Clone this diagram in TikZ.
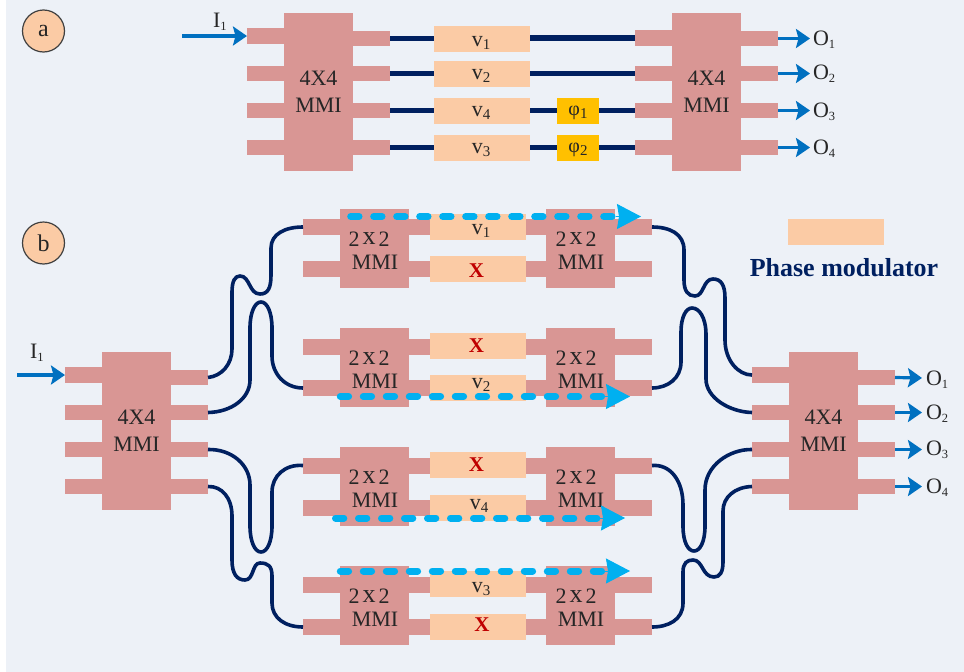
\documentclass[tikz,border=0pt]{standalone}
\usepackage{fontspec}
\setmainfont{Liberation Serif}
\usetikzlibrary{arrows.meta}
\definecolor{bgc}{HTML}{EDF1F7}
\definecolor{mmic}{HTML}{D99694}
\definecolor{boxc}{HTML}{FBCBA5}
\definecolor{navyc}{HTML}{002060}
\definecolor{bluec}{HTML}{0070C0}
\definecolor{cyanc}{HTML}{00B0F0}
\definecolor{goldc}{HTML}{FFC000}
\definecolor{redc}{HTML}{C00000}
\definecolor{txtc}{HTML}{262626}
\tikzset{
  x=1pt,y=-1pt,
  block/.style={inner sep=0pt,outer sep=0pt,draw=none},
  mmi/.style={block,fill=mmic},
  pm/.style={block,fill=boxc},
  phi/.style={block,fill=goldc},
  wg/.style={draw=navyc,line width=3.6pt},
  wgs/.style={draw=navyc,line width=5.5pt},
  io/.style={draw=bluec,line width=3.2pt,-{Stealth[length=14pt,width=19pt,inset=2.5pt]}},
  pill/.style={draw=cyanc,line width=7pt,line cap=round},
  headtip/.style={draw=cyanc,line width=1pt,-{Stealth[length=24pt,width=25pt,inset=2pt]}},
  lbl/.style={inner sep=0pt,outer sep=0pt,anchor=base,text=txtc,font=\fontsize{22}{24}\selectfont},
  lblw/.style={lbl,anchor=base west},
  xmark/.style={lbl,text=redc,font=\fontsize{21}{24}\selectfont\bfseries},
  tag/.style={circle,draw=black!75,line width=1.2pt,fill=boxc,minimum size=42pt,inner sep=0pt,text=txtc,font=\fontsize{24}{26}\selectfont},
}
\newcommand{\bx}[6]{\node[#2,minimum width={((#5)-(#3))*1pt},minimum height={((#6)-(#4))*1pt}] (#1) at ({((#3)+(#5))/2},{((#4)+(#6))/2}) {};}
\newcommand{\tx}[5][lbl]{\node[#1] (#2) at ({#3},{#4}) {#5};}
\newcommand{\sbl}[1]{\raisebox{-3pt}{\fontsize{15}{16}\selectfont #1}}
\newcommand{\sbo}[1]{\raisebox{-3pt}{\fontsize{12.5}{14}\selectfont #1}}
\newcommand{\twox}{2\hspace{3pt}\raisebox{1.5pt}{\fontsize{26}{26}\selectfont x}\hspace{3pt}2}
% highlighted optical path: prefix, first pill start x, y, tip x
\newcommand{\lightpath}[4]{%
  \coordinate (#1b) at ({#4-25},#3);
  \coordinate (#1e) at (#4,#3);
  \foreach \k in {0,...,11}{%
    \pgfmathsetmacro{\xa}{#2+23*\k}
    \ifdim\xa pt<\dimexpr#4pt-35pt\relax
      \draw[pill] (\xa,#3) -- ({\xa+8.3},#3);
    \fi
  }
  \draw[headtip] (#1b) -- (#1e);
}
% 4x4: prefix, body left, body top, top offset of first left port
\newcommand{\fourby}[4]{%
  \bx{#1b}{mmi}{#2}{#3}{#2+69}{#3+158}
  \bx{#1l1}{mmi}{#2-37}{#3+#4}{#2}{#3+#4+16}
  \bx{#1l2}{mmi}{#2-37}{#3+53}{#2}{#3+68}
  \bx{#1l3}{mmi}{#2-37}{#3+90}{#2}{#3+105}
  \bx{#1l4}{mmi}{#2-37}{#3+127}{#2}{#3+142}
  \bx{#1r1}{mmi}{#2+69}{#3+18}{#2+106}{#3+33}
  \bx{#1r2}{mmi}{#2+69}{#3+53}{#2+106}{#3+68}
  \bx{#1r3}{mmi}{#2+69}{#3+90}{#2+106}{#3+105}
  \bx{#1r4}{mmi}{#2+69}{#3+127}{#2+106}{#3+142}
  \tx{#1t1}{#2+34.5}{#3+72}{4X4}
  \tx{#1t2}{#2+34.5}{#3+99}{MMI}
}
% 2x2 stage: prefix, body top, port1 centre, port2 centre
\newcommand{\twoby}[4]{%
  \bx{#1ab}{mmi}{340}{#2}{409}{#2+79}
  \bx{#1al1}{mmi}{303}{#3-8}{340}{#3+8}
  \bx{#1al2}{mmi}{303}{#4-8}{340}{#4+8}
  \bx{#1ar1}{mmi}{409}{#3-8}{430}{#3+8}
  \bx{#1ar2}{mmi}{409}{#4-8}{430}{#4+8}
  \bx{#1cb}{mmi}{546}{#2}{615}{#2+79}
  \bx{#1cl1}{mmi}{526}{#3-8}{546}{#3+8}
  \bx{#1cl2}{mmi}{526}{#4-8}{546}{#4+8}
  \bx{#1cr1}{mmi}{615}{#3-8}{652}{#3+8}
  \bx{#1cr2}{mmi}{615}{#4-8}{652}{#4+8}
  \tx{#1t1}{369}{#2+37.5}{\twox}
  \tx{#1t2}{375}{#2+60.5}{MMI}
  \tx{#1t3}{576}{#2+37.5}{\twox}
  \tx{#1t4}{581}{#2+60.5}{MMI}
}
\begin{document}
\begin{tikzpicture}
\useasboundingbox (0,0) rectangle (964,672);
\fill[bgc] (6,0) rectangle (964,672);
% ---------- (a)
\node[tag] (taga) at (43.5,31) {a};
\fourby{A}{284}{13}{15}
\fourby{B}{672}{13}{17}
\bx{pa1}{pm}{434}{26}{530}{52}
\bx{pa2}{pm}{434}{61}{530}{87}
\bx{pa3}{pm}{434}{98}{530}{124}
\bx{pa4}{pm}{434}{135}{530}{161}
\bx{ph1}{phi}{557}{98}{599}{124}
\bx{ph2}{phi}{557}{135}{599}{161}
\draw[wgs] (Ar1.east) -- (Ar1.east -| pa1.west);
\draw[wgs] (Ar2.east) -- (Ar2.east -| pa2.west);
\draw[wgs] (Ar3.east) -- (Ar3.east -| pa3.west);
\draw[wgs] (Ar4.east) -- (Ar4.east -| pa4.west);
\draw[wgs] (Bl1.west -| pa1.east) -- (Bl1.west);
\draw[wgs] (Bl2.west -| pa2.east) -- (Bl2.west);
\draw[wgs] (Ar3.east -| pa3.east) -- (Ar3.east -| ph1.west);
\draw[wgs] (Ar4.east -| pa4.east) -- (Ar4.east -| ph2.west);
\draw[wgs] (Bl3.west -| ph1.east) -- (Bl3.west);
\draw[wgs] (Bl4.west -| ph2.east) -- (Bl4.west);
\tx{va1}{481}{46}{v\sbl{1}}
\tx{va2}{481}{79}{v\sbl{2}}
\tx{va3}{481}{116}{v\sbl{4}}
\tx{va4}{481}{153}{v\sbl{3}}
\tx{pht1}{578}{115}{\fontsize{20}{22}\selectfont φ\sbl{1}}
\tx{pht2}{578}{152}{\fontsize{20}{22}\selectfont φ\sbl{2}}
\coordinate (ina) at (182,36);
\draw[io] (ina) -- (Al1.west);
\tx[lblw]{ia}{213}{27}{I\sbo{1}}
\coordinate (oa1) at (810,38.5);
\coordinate (oa2) at (810,73.5);
\coordinate (oa3) at (810,110.5);
\coordinate (oa4) at (810,147.5);
\draw[io] (Br1.east) -- (oa1);
\draw[io] (Br2.east) -- (oa2);
\draw[io] (Br3.east) -- (oa3);
\draw[io] (Br4.east) -- (oa4);
\tx[lblw]{oat1}{813}{45}{O\sbo{1}}
\tx[lblw]{oat2}{813}{79}{O\sbo{2}}
\tx[lblw]{oat3}{813}{117}{O\sbo{3}}
\tx[lblw]{oat4}{813}{154}{O\sbo{4}}
% ---------- (b)
\node[tag] (tagb) at (43.5,243) {b};
\bx{leg}{pm}{788}{219}{884}{245}
\node[inner sep=0pt,anchor=base,text=navyc,font=\fontsize{26}{28}\selectfont\bfseries] (legt) at (844,276) {Phase modulator};
\fourby{C}{102}{352}{15}
\fourby{D}{789}{352}{15}
\bx{pb1}{pm}{430}{214}{526}{240}
\bx{pb2}{pm}{430}{256}{526}{282}
\bx{pb3}{pm}{430}{333}{526}{359}
\bx{pb4}{pm}{430}{375}{526}{401}
\bx{pb5}{pm}{430}{452}{526}{478}
\bx{pb6}{pm}{430}{495}{526}{521}
\bx{pb7}{pm}{430}{571}{526}{597}
\bx{pb8}{pm}{430}{614}{526}{640}
\twoby{E}{208.5}{227}{269}
\twoby{F}{328}{346.5}{388}
\twoby{G}{447}{465.5}{508}
\twoby{H}{566}{584.5}{627}
\tx{vb1}{481}{234}{v\sbl{1}}
\tx[xmark]{xb1}{476.5}{277}{X}
\tx[xmark]{xb2}{476.5}{352}{X}
\tx{vb2}{481}{388}{v\sbl{2}}
\tx[xmark]{xb3}{476.5}{471}{X}
\tx{vb3}{479}{509}{v\sbl{4}}
\tx{vb4}{481}{592}{v\sbl{3}}
\tx[xmark]{xb4}{482}{631}{X}
% left waveguides
\draw[wg] (Cr1.east) .. controls (222,376) and (232,364) .. (232,349) -- (232,292)
  .. controls (232,281) and (235,276) .. (240,276)
  .. controls (250,276) and (249,294) .. (260,294)
  .. controls (268,294) and (271,288) .. (271,275) -- (271,248)
  .. controls (271,234) and (285,227) .. (Eal1.west);
\draw[wg] (Cr2.east) .. controls (232,412) and (250,398) .. (250,380) -- (250,328)
  .. controls (250,312) and (255,302) .. (261,302)
  .. controls (267,302) and (272,312) .. (272,328) -- (272,356)
  .. controls (272,374) and (285,388) .. (Fal2.west);
\draw[wg] (Cr3.east) .. controls (232,449) and (250,465) .. (250,485) -- (250,526)
  .. controls (250,542) and (255,552) .. (261,552)
  .. controls (267,552) and (272,542) .. (272,526) -- (272,492)
  .. controls (272,476) and (285,464) .. (Gal1.west);
\draw[wg] (Cr4.east) .. controls (222,486) and (232,498) .. (232,516) -- (232,560)
  .. controls (232,574) and (237,580) .. (245,580)
  .. controls (254,580) and (252,563) .. (260,563)
  .. controls (268,563) and (272,566) .. (272,576) -- (272,603)
  .. controls (272,618) and (285,627) .. (Hal2.west);
% right waveguides
\draw[wg] (Ecr1.east) .. controls (670,227) and (684,234) .. (684,250) -- (684,280)
  .. controls (684,291) and (688,296) .. (695,296)
  .. controls (704,296) and (703,279) .. (713,279)
  .. controls (721,279) and (725,285) .. (725,298) -- (725,340)
  .. controls (725,360) and (738,375) .. (Dl1.west);
\draw[wg] (Fcr2.east) .. controls (668,388) and (681,378) .. (681,362) -- (681,332)
  .. controls (681,317) and (686,308) .. (692,308)
  .. controls (699,308) and (706,317) .. (706,335) -- (706,379)
  .. controls (706,398) and (730,412) .. (Dl2.west);
\draw[wg] (Gcr1.east) .. controls (670,464) and (683,480) .. (683,505) -- (683,526)
  .. controls (683,542) and (688,551) .. (694,551)
  .. controls (700,551) and (705,542) .. (705,526) -- (705,490)
  .. controls (705,465) and (730,449) .. (Dl3.west);
\draw[wg] (Hcr2.east) .. controls (668,627) and (683,620) .. (683,603) -- (683,572)
  .. controls (683,563) and (687,560) .. (693,560)
  .. controls (703,560) and (702,577) .. (714,577)
  .. controls (720,577) and (723,572) .. (723,562) -- (723,511)
  .. controls (723,497) and (735,487) .. (Dl4.west);
% I/O arrows
\coordinate (inb) at (17,375);
\draw[io] (inb) -- (Cl1.west);
\tx[lblw]{ib}{30}{358}{I\sbo{1}}
\coordinate (ob1) at (922,378);
\coordinate (ob2) at (922,412.5);
\coordinate (ob3) at (922,449.5);
\coordinate (ob4) at (922,486.5);
\draw[io] (Dr1.east) -- (ob1);
\draw[io] (Dr2.east) -- (ob2);
\draw[io] (Dr3.east) -- (ob3);
\draw[io] (Dr4.east) -- (ob4);
\tx[lblw]{obt1}{926}{385}{O\sbo{1}}
\tx[lblw]{obt2}{926}{419}{O\sbo{2}}
\tx[lblw]{obt3}{926}{455}{O\sbo{3}}
\tx[lblw]{obt4}{926}{493}{O\sbo{4}}
% optical path highlights
\lightpath{p1}{350.7}{216.5}{641}
\lightpath{p2}{340.3}{396.5}{630}
\lightpath{p3}{335.5}{518}{625}
\lightpath{p4}{340.3}{571}{630}
\end{tikzpicture}
\end{document}
